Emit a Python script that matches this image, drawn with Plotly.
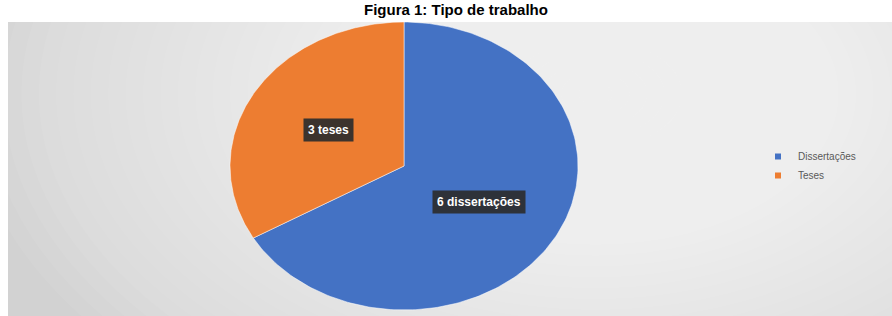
import numpy as np
import plotly.graph_objects as go

categories = ["Dissertações", "Teses"]
values = [6, 3]
labels = ["6 dissertações", "3 teses"]
colors = ["#4472C4", "#ED7D31"]
title = "Figura 1: Tipo de trabalho"

W, H = 892, 316
ML, MT = 8, 22
PW, PH = W - ML, H - MT
# ellipse geometry (pixels)
cx_px, cy_px, rx_px, ry_px = 404, 166, 174, 144
x0 = -(cx_px - ML) / rx_px
x1 = (W - cx_px) / rx_px
y1 = (cy_px - MT) / ry_px
y0 = -(H - cy_px) / ry_px

fig = go.Figure()

# radial gradient-ish background
shapes = []
gcx, gcy = 1.1, 0.5
N = 36
for i in range(N):
    s = 3.6 * (1 - i / N)
    shapes.append(dict(type="circle", xref="x", yref="y", layer="below",
                       x0=gcx - s, x1=gcx + s, y0=gcy - s * 0.75, y1=gcy + s * 0.75,
                       fillcolor="rgba(255,255,255,0.055)", line=dict(width=0)))

# wedges: start at 12 o'clock, go clockwise
total = sum(values)
start = np.pi / 2
for cat, v, col, lab in zip(categories, values, colors, labels):
    sweep = 2 * np.pi * v / total
    th = np.linspace(start, start - sweep, 200)
    xs = np.concatenate([[0], np.cos(th), [0]])
    ys = np.concatenate([[0], np.sin(th), [0]])
    fig.add_trace(go.Scatter(x=xs, y=ys, fill="toself", fillcolor=col, mode="lines",
                             line=dict(color="rgba(255,255,255,0.5)", width=1),
                             showlegend=False, hoverinfo="skip"))
    mid = start - sweep / 2
    fig.add_annotation(x=0.5 * np.cos(mid), y=0.5 * np.sin(mid), text="<b>" + lab + "</b>",
                       showarrow=False, font=dict(family="Liberation Sans", size=12, color="white"),
                       bgcolor="rgba(45,45,45,0.92)", borderpad=4)
    start -= sweep

# legend entries
for cat, col in zip(categories, colors):
    fig.add_trace(go.Scatter(x=[None], y=[None], mode="markers", name=cat,
                             marker=dict(symbol="square", size=6, color=col)))

fig.add_annotation(xref="paper", yref="paper", x=(456 - ML) / PW, y=1 + (MT - 10) / PH,
                   text="<b>" + title + "</b>", showarrow=False, yanchor="middle",
                   font=dict(family="Liberation Sans", size=15, color="black"))

fig.update_layout(
    width=W, height=H, margin=dict(l=ML, r=0, t=MT, b=0),
    paper_bgcolor="white", plot_bgcolor="#d2d2d2",
    shapes=shapes,
    xaxis=dict(range=[x0, x1], visible=False, fixedrange=True),
    yaxis=dict(range=[y0, y1], visible=False, fixedrange=True),
    legend=dict(x=(758 - ML) / PW, y=(H - 166) / PH, xanchor="left", yanchor="middle",
                font=dict(family="Liberation Sans", size=10, color="#595959"),
                bgcolor="rgba(0,0,0,0)", itemwidth=30),
    showlegend=True,
)

fig.write_html("out.html", config={"displayModeBar": False},
               post_script="document.body.style.margin='0';")
